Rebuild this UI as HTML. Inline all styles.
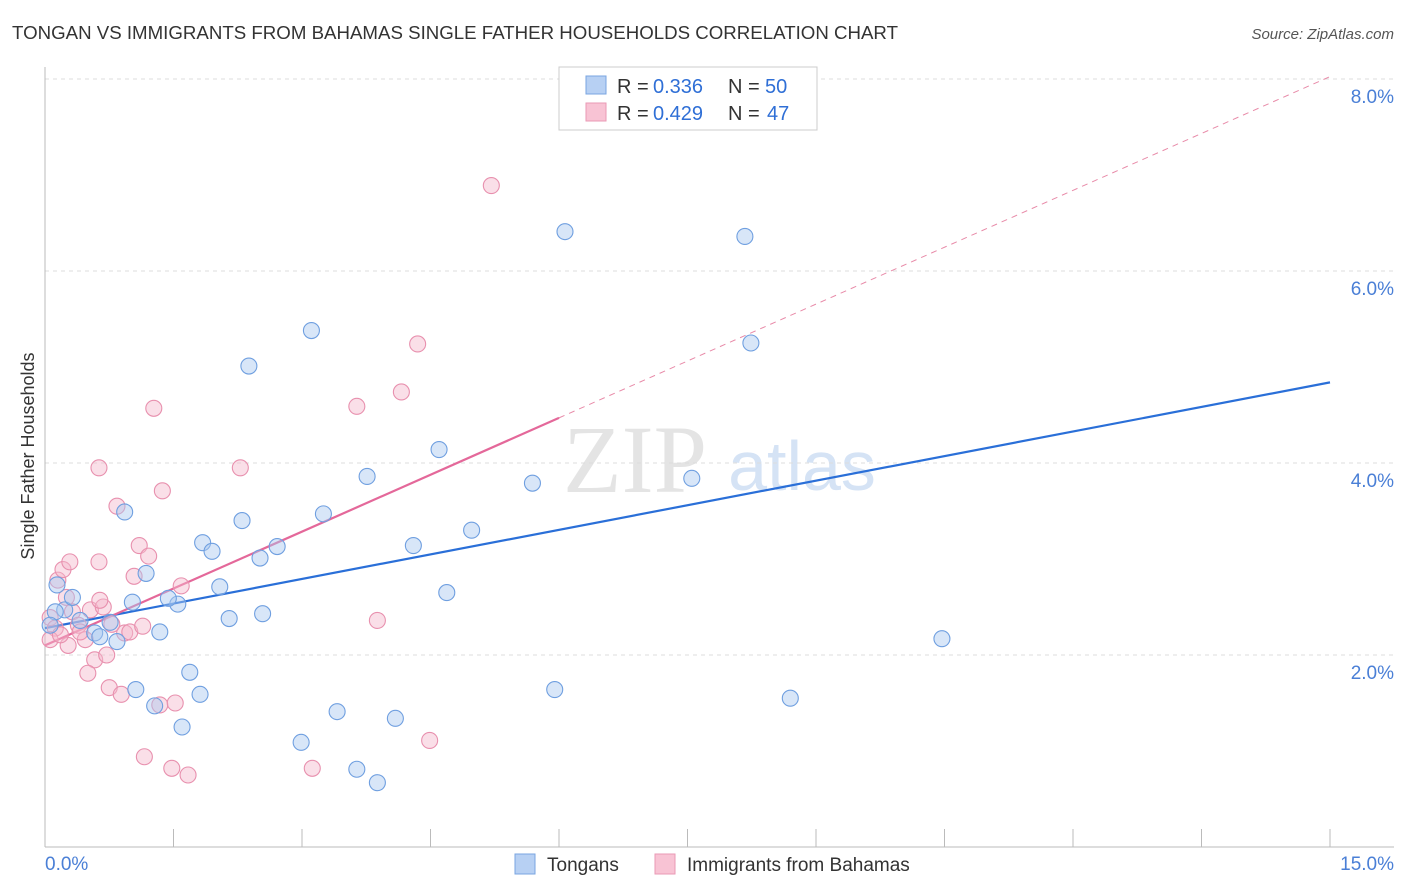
<!DOCTYPE html>
<html><head><meta charset="utf-8"><style>
body{margin:0;background:#fff;font-family:"Liberation Sans",sans-serif;}
svg{display:block}
</style></head><body>
<svg id="chart" width="1406" height="892" xmlns="http://www.w3.org/2000/svg">
<text x="12" y="39" font-size="18" fill="#333" textLength="886" lengthAdjust="spacingAndGlyphs">TONGAN VS IMMIGRANTS FROM BAHAMAS SINGLE FATHER HOUSEHOLDS CORRELATION CHART</text>
<text x="1394" y="39" font-size="15" fill="#555" font-style="italic" text-anchor="end">Source: ZipAtlas.com</text>
<text x="34" y="456" font-size="18" fill="#333" text-anchor="middle" transform="rotate(-90 34 456)">Single Father Households</text>
<text x="635" y="492" font-size="96" fill="#e4e4e4" font-family="Liberation Serif,serif" text-anchor="middle">ZIP</text>
<text x="802" y="490" font-size="70" fill="#d5e3f5" text-anchor="middle">atlas</text>
<g id="grid"></g><g id="axes"></g><g id="lines"></g><g id="pts"></g>
<g>
<rect x="559" y="67" width="258" height="63" fill="#fff" stroke="#ccc"/>
<rect x="586" y="76" width="20" height="18" fill="#b7d0f3" stroke="#7aa5e0"/>
<rect x="586" y="103" width="20" height="18" fill="#f8c3d4" stroke="#ea9ab5"/>
<text x="617" y="93" font-size="20" fill="#333">R =</text>
<text x="653" y="93" font-size="20" fill="#2f6fd6">0.336</text>
<text x="728" y="93" font-size="20" fill="#333">N =</text>
<text x="765" y="93" font-size="20" fill="#2f6fd6">50</text>
<text x="617" y="120" font-size="20" fill="#333">R =</text>
<text x="653" y="120" font-size="20" fill="#2f6fd6">0.429</text>
<text x="728" y="120" font-size="20" fill="#333">N =</text>
<text x="767" y="120" font-size="20" fill="#2f6fd6">47</text>
</g>
<g>
<rect x="515" y="854" width="20" height="20" fill="#b7d0f3" stroke="#7aa5e0"/>
<text x="547" y="871" font-size="19" fill="#333">Tongans</text>
<rect x="655" y="854" width="20" height="20" fill="#f8c3d4" stroke="#ea9ab5"/>
<text x="687" y="871" font-size="19" fill="#333">Immigrants from Bahamas</text>
</g>
</svg>
<script>
const yTicks=[2,4,6,8];
const xTickCount=11;
const blueX=[0.14,0.23,0.32,0.12,0.41,0.58,0.64,0.84,0.76,0.93,1.18,1.02,1.55,1.44,1.34,1.06,1.28,1.60,1.69,1.81,1.84,1.95,2.04,2.15,2.30,2.38,2.51,2.54,2.71,3.11,3.25,2.99,3.41,3.64,3.76,3.88,4.09,4.30,4.60,4.69,4.98,5.69,5.95,6.07,8.17,8.24,7.55,8.70,10.47,0.06];
const blueY=[2.73,2.47,2.60,2.45,2.36,2.23,2.19,2.14,2.34,3.49,2.85,2.55,2.53,2.59,2.24,1.64,1.47,1.25,1.82,1.59,3.17,3.08,2.71,2.38,3.40,5.01,3.01,2.43,3.13,5.38,3.47,1.09,1.41,0.81,3.86,0.67,1.34,3.14,4.14,2.65,3.30,3.79,1.64,6.41,6.36,5.25,3.84,1.55,2.17,2.31];
const pinkX=[0.06,0.12,0.15,0.21,0.29,0.25,0.32,0.39,0.47,0.53,0.58,0.63,0.63,0.68,0.72,0.75,0.84,0.89,0.93,0.99,1.04,1.10,1.14,1.21,1.16,1.27,1.34,1.37,1.48,1.52,1.59,1.67,2.28,3.12,3.64,3.88,4.16,4.35,4.49,5.21,0.27,0.06,0.50,0.78,0.18,0.41,0.64];
const pinkY=[2.39,2.28,2.78,2.89,2.97,2.60,2.45,2.31,2.16,2.47,1.95,2.97,3.95,2.50,2.00,1.66,3.55,1.59,2.23,2.24,2.82,3.14,2.30,3.03,0.94,4.57,1.48,3.71,0.82,1.50,2.72,0.75,3.95,0.82,4.59,2.36,4.74,5.24,1.11,6.89,2.10,2.16,1.81,2.32,2.21,2.24,2.57];
const blueFit=[2.28,4.84];
const pinkFit=[2.10,0.395];
const X0=45,X1=1330,Y0=847;
const sx=v=>X0+v/15*(X1-X0);
const sy=v=>Y0-v*96;
const NS="http://www.w3.org/2000/svg";
function mk(tag,parent,attrs){const e=document.createElementNS(NS,tag);for(const k in attrs)e.setAttribute(k,attrs[k]);document.getElementById(parent).appendChild(e);return e;}
yTicks.forEach(t=>{
 const l=mk('line','grid',{x1:X0,x2:1394,y1:sy(t),y2:sy(t),stroke:'#ddd','stroke-dasharray':'4 4'});
 
 
 const tx=mk('text','grid',{x:1394,y:sy(t)+24,'font-size':19,fill:'#4a7fd6','text-anchor':'end'});
 tx.textContent=t.toFixed(1)+'%';
 
 
});
const ax=mk('line','axes',{x1:X0,x2:1394,y1:Y0,y2:Y0,stroke:'#bbb'});


const ay=mk('line','axes',{x1:X0,x2:X0,y1:67,y2:Y0,stroke:'#bbb'});


for(let i=0;i<xTickCount;i++){const x=sx(i*1.5);
 const t=mk('line','axes',{x1:x,x2:x,y1:829,y2:Y0,stroke:'#bbb'});
 
 }
const xl=mk('text','axes',{x:45,y:870,'font-size':19,fill:'#4a7fd6'});xl.textContent='0.0%';


const xr=mk('text','axes',{x:1394,y:870,'font-size':19,fill:'#4a7fd6','text-anchor':'end'});xr.textContent='15.0%';


function drawPts(xs,ys,fill,stroke,name){xs.forEach((v,i)=>{
 const c=mk('circle','pts',{cx:sx(v),cy:sy(ys[i]),r:8,fill:fill,'fill-opacity':0.45,stroke:stroke,'stroke-width':1.1});
 
 });}
drawPts(pinkX,pinkY,'#f5b8cc','#e890ae','bahamas-point');
drawPts(blueX,blueY,'#a9c8f0','#6f9fe0','tongan-point');
const bl=mk('line','lines',{x1:sx(0),y1:sy(blueFit[0]),x2:sx(15),y2:sy(blueFit[1]),stroke:'#2a6fd8','stroke-width':2.2});


const pd=mk('line','lines',{x1:sx(6),y1:sy(pinkFit[0]+6*pinkFit[1]),x2:sx(15),y2:sy(pinkFit[0]+15*pinkFit[1]),stroke:'#e88aa8','stroke-width':1,'stroke-dasharray':'6 5'});


const pl=mk('line','lines',{x1:sx(0),y1:sy(pinkFit[0]),x2:sx(6),y2:sy(pinkFit[0]+6*pinkFit[1]),stroke:'#e4689a','stroke-width':2.2});


</script>
</body></html>
